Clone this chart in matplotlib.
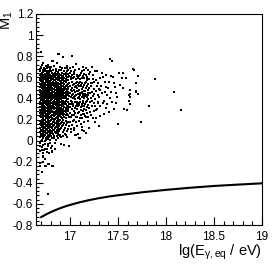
import numpy as np
import matplotlib
matplotlib.use('Agg')
import matplotlib.pyplot as plt
from matplotlib.ticker import MultipleLocator, FormatStrFormatter

plt.rcParams['font.family'] = ['Liberation Sans', 'DejaVu Sans']
plt.rcParams['mathtext.default'] = 'regular'

# dense core: one x per column, y values of that column
col_x = [16.685, 16.705, 16.722, 16.740, 16.758, 16.776, 16.795,
         16.813, 16.832, 16.850, 16.870, 16.890, 16.910, 16.930]
col_y = [
    [-0.21, -0.10, -0.02, 0.03, 0.08, 0.12, 0.16, 0.19, 0.23, 0.26, 0.29, 0.32, 0.35, 0.37, 0.40, 0.43, 0.46, 0.48, 0.51, 0.54, 0.57, 0.59, 0.62, 0.66],
    [-0.30, -0.06, 0.01, 0.05, 0.09, 0.13, 0.17, 0.20, 0.24, 0.27, 0.30, 0.33, 0.36, 0.39, 0.42, 0.44, 0.47, 0.50, 0.53, 0.55, 0.58, 0.61, 0.64, 0.72],
    [-0.15, -0.04, 0.02, 0.06, 0.10, 0.14, 0.18, 0.21, 0.25, 0.28, 0.31, 0.34, 0.37, 0.40, 0.43, 0.45, 0.48, 0.51, 0.54, 0.56, 0.59, 0.62, 0.65],
    [-0.24, -0.08, 0.00, 0.05, 0.09, 0.12, 0.16, 0.20, 0.23, 0.26, 0.29, 0.32, 0.36, 0.38, 0.41, 0.44, 0.47, 0.49, 0.52, 0.55, 0.58, 0.60, 0.63, 0.68],
    [-0.11, 0.03, 0.07, 0.11, 0.15, 0.18, 0.22, 0.25, 0.28, 0.31, 0.34, 0.37, 0.39, 0.42, 0.45, 0.48, 0.50, 0.53, 0.56, 0.58, 0.61, 0.64],
    [-0.22, -0.03, 0.04, 0.08, 0.13, 0.17, 0.20, 0.24, 0.27, 0.30, 0.33, 0.35, 0.38, 0.41, 0.44, 0.46, 0.49, 0.52, 0.55, 0.57, 0.60, 0.63, 0.70],
    [0.01, 0.06, 0.10, 0.14, 0.19, 0.22, 0.26, 0.29, 0.32, 0.34, 0.37, 0.40, 0.43, 0.45, 0.48, 0.51, 0.54, 0.56, 0.59, 0.62, 0.66],
    [-0.24, -0.10, 0.02, 0.08, 0.12, 0.16, 0.21, 0.24, 0.28, 0.31, 0.33, 0.36, 0.39, 0.42, 0.44, 0.47, 0.50, 0.53, 0.55, 0.58, 0.61, 0.64, 0.75],
    [0.04, 0.10, 0.15, 0.19, 0.23, 0.26, 0.30, 0.32, 0.35, 0.38, 0.41, 0.43, 0.46, 0.49, 0.52, 0.54, 0.57, 0.60, 0.63],
    [0.01, 0.07, 0.13, 0.17, 0.21, 0.25, 0.28, 0.31, 0.34, 0.37, 0.40, 0.42, 0.45, 0.48, 0.51, 0.53, 0.56, 0.59, 0.62, 0.66],
    [0.05, 0.11, 0.16, 0.20, 0.24, 0.27, 0.30, 0.33, 0.36, 0.39, 0.41, 0.44, 0.47, 0.50, 0.52, 0.55, 0.58, 0.61, 0.64],
    [0.09, 0.14, 0.19, 0.23, 0.26, 0.29, 0.32, 0.35, 0.38, 0.40, 0.43, 0.46, 0.49, 0.51, 0.54, 0.57, 0.60, 0.63, 0.82],
    [0.03, 0.12, 0.17, 0.22, 0.25, 0.28, 0.31, 0.34, 0.37, 0.39, 0.42, 0.45, 0.48, 0.50, 0.53, 0.56, 0.59, 0.62, 0.67],
    [0.08, 0.15, 0.20, 0.24, 0.27, 0.30, 0.33, 0.36, 0.38, 0.41, 0.44, 0.47, 0.49, 0.52, 0.55, 0.58, 0.61, 0.79],
]

# second core layer, columns between the first ones
col2_x = [16.695, 16.714, 16.731, 16.749, 16.767, 16.786, 16.804, 16.822,
          16.841, 16.860, 16.880, 16.900, 16.920, 16.940, 16.960, 16.980]
col2_y = [
    [0.00, 0.04, 0.10, 0.15, 0.175, 0.22, 0.255, 0.28, 0.315, 0.345, 0.385, 0.415, 0.45, 0.47, 0.505, 0.525, 0.565, 0.60, 0.635, 0.69],
    [-0.20, 0.03, 0.075, 0.115, 0.155, 0.19, 0.225, 0.265, 0.29, 0.325, 0.355, 0.38, 0.415, 0.455, 0.485, 0.52, 0.545, 0.575, 0.615, 0.65],
    [-0.09, 0.045, 0.085, 0.13, 0.165, 0.195, 0.235, 0.27, 0.30, 0.33, 0.36, 0.395, 0.42, 0.46, 0.495, 0.525, 0.55, 0.585, 0.625, 0.66],
    [0.02, 0.07, 0.105, 0.14, 0.18, 0.21, 0.245, 0.28, 0.305, 0.345, 0.375, 0.40, 0.435, 0.465, 0.50, 0.53, 0.565, 0.595, 0.62, 0.71],
    [-0.05, 0.015, 0.055, 0.095, 0.135, 0.165, 0.205, 0.235, 0.265, 0.29, 0.325, 0.36, 0.395, 0.425, 0.455, 0.475, 0.515, 0.545, 0.59, 0.62, 0.655],
    [0.03, 0.085, 0.12, 0.155, 0.18, 0.215, 0.25, 0.285, 0.31, 0.345, 0.375, 0.41, 0.43, 0.465, 0.50, 0.525, 0.565, 0.60, 0.645],
    [-0.07, 0.04, 0.075, 0.125, 0.16, 0.20, 0.23, 0.27, 0.30, 0.325, 0.355, 0.385, 0.415, 0.455, 0.49, 0.515, 0.545, 0.575, 0.605, 0.655],
    [0.065, 0.105, 0.135, 0.175, 0.205, 0.24, 0.275, 0.31, 0.335, 0.37, 0.40, 0.43, 0.465, 0.49, 0.525, 0.56, 0.595, 0.625],
    [-0.02, 0.085, 0.12, 0.165, 0.205, 0.24, 0.27, 0.31, 0.345, 0.365, 0.395, 0.42, 0.445, 0.48, 0.51, 0.545, 0.575, 0.615, 0.645],
    [0.045, 0.10, 0.145, 0.185, 0.225, 0.26, 0.29, 0.325, 0.355, 0.385, 0.415, 0.435, 0.465, 0.495, 0.525, 0.55, 0.585, 0.635],
    [0.075, 0.125, 0.175, 0.215, 0.245, 0.275, 0.31, 0.345, 0.37, 0.395, 0.425, 0.455, 0.485, 0.52, 0.55, 0.575, 0.605, 0.65],
    [0.04, 0.11, 0.155, 0.195, 0.24, 0.27, 0.30, 0.335, 0.365, 0.395, 0.415, 0.44, 0.47, 0.505, 0.535, 0.565, 0.59, 0.625],
    [0.135, 0.175, 0.21, 0.26, 0.29, 0.325, 0.35, 0.38, 0.405, 0.435, 0.46, 0.49, 0.52, 0.545, 0.575, 0.605, 0.64],
    [0.10, 0.165, 0.225, 0.255, 0.285, 0.32, 0.345, 0.37, 0.40, 0.425, 0.455, 0.48, 0.51, 0.535, 0.565, 0.595, 0.63],
    [0.145, 0.19, 0.245, 0.27, 0.31, 0.345, 0.38, 0.41, 0.43, 0.465, 0.49, 0.52, 0.555, 0.585, 0.615, 0.645],
    [0.18, 0.24, 0.30, 0.325, 0.365, 0.395, 0.435, 0.465, 0.51, 0.535, 0.57, 0.60, 0.63],
]

# medium density band 16.95 - 17.2
mid_x = [16.952, 16.955, 16.958, 16.951, 16.956, 16.953, 16.957, 16.954, 16.959, 16.950,
         16.968, 16.972, 16.966, 16.970, 16.974, 16.969, 16.973, 16.967, 16.971, 16.975,
         16.985, 16.988, 16.983, 16.990, 16.986, 16.984, 16.989, 16.987, 16.991, 16.982,
         17.002, 17.005, 17.000, 17.007, 17.003, 17.001, 17.006, 17.004, 17.008, 17.009,
         17.020, 17.022, 17.018, 17.025, 17.021, 17.019, 17.024, 17.023, 17.026, 17.017,
         17.038, 17.041, 17.036, 17.043, 17.039, 17.037, 17.042, 17.040, 17.044, 17.035,
         17.056, 17.059, 17.054, 17.061, 17.057, 17.055, 17.060, 17.058, 17.062, 17.053,
         17.074, 17.077, 17.072, 17.079, 17.075, 17.073, 17.078, 17.076, 17.080, 17.071,
         17.092, 17.095, 17.090, 17.097, 17.093, 17.091, 17.096, 17.094, 17.098, 17.089,
         17.110, 17.113, 17.108, 17.115, 17.111, 17.109, 17.114, 17.112, 17.116, 17.107,
         17.128, 17.131, 17.126, 17.133, 17.129, 17.127, 17.132, 17.130, 17.134, 17.125,
         17.146, 17.149, 17.144, 17.151, 17.147, 17.145, 17.150, 17.148, 17.152, 17.143,
         17.164, 17.167, 17.162, 17.169, 17.165, 17.163, 17.168, 17.166, 17.170, 17.161,
         17.182, 17.185, 17.180, 17.187, 17.183, 17.181, 17.186, 17.184, 17.188, 17.179]
mid_y = [0.12, 0.21, 0.29, 0.36, 0.44, 0.50, 0.57, 0.62, 0.05, 0.40,
         0.17, 0.25, 0.33, 0.39, 0.47, 0.53, 0.60, 0.66, 0.09, 0.31,
         0.14, 0.22, 0.28, 0.35, 0.42, 0.49, 0.55, 0.61, -0.05, 0.45,
         0.18, 0.26, 0.32, 0.38, 0.45, 0.52, 0.58, 0.64, 0.11, 0.41,
         0.15, 0.24, 0.30, 0.37, 0.43, 0.50, 0.56, 0.62, 0.80, 0.47,
         0.20, 0.28, 0.35, 0.41, 0.48, 0.54, 0.60, 0.12, 0.65, 0.44,
         0.05, 0.18, 0.26, 0.33, 0.39, 0.46, 0.52, 0.58, 0.73, 0.42,
         0.22, 0.30, 0.37, 0.44, 0.50, 0.56, 0.62, 0.14, 0.40, 0.47,
         0.02, 0.19, 0.27, 0.34, 0.41, 0.48, 0.55, 0.61, 0.36, 0.52,
         0.24, 0.32, 0.39, 0.45, 0.52, 0.58, 0.16, 0.64, 0.29, 0.43,
         0.10, 0.28, 0.35, 0.42, 0.49, 0.55, 0.61, 0.21, 0.38, 0.46,
         0.25, 0.33, 0.40, 0.47, 0.53, 0.59, 0.18, 0.67, 0.44, 0.30,
         0.07, 0.29, 0.37, 0.43, 0.50, 0.56, 0.62, 0.22, 0.69, 0.47,
         0.26, 0.34, 0.41, 0.48, 0.54, 0.60, 0.19, 0.39, 0.45, 0.57]

# extra fill 17.0 - 17.3
mid2_x = [17.011, 17.014, 17.012, 17.013, 17.029, 17.031, 17.030, 17.032, 17.028, 17.047,
          17.049, 17.048, 17.050, 17.046, 17.066, 17.068, 17.065, 17.067, 17.069, 17.084,
          17.086, 17.083, 17.085, 17.087, 17.102, 17.104, 17.101, 17.103, 17.105, 17.120,
          17.122, 17.119, 17.121, 17.138, 17.140, 17.137, 17.139, 17.141, 17.156, 17.158,
          17.155, 17.157, 17.174, 17.176, 17.173, 17.175, 17.192, 17.194, 17.191, 17.193,
          17.195, 17.205, 17.212, 17.215, 17.218, 17.228, 17.232, 17.236, 17.240, 17.245,
          17.252, 17.255, 17.262, 17.268, 17.275, 17.282, 17.288, 17.295, 17.302, 17.315]
mid2_y = [0.22, 0.35, 0.48, 0.60, 0.19, 0.33, 0.40, 0.53, 0.59, 0.24,
          0.31, 0.37, 0.51, 0.63, 0.22, 0.35, 0.43, 0.55, 0.61, 0.26,
          0.33, 0.47, 0.53, 0.59, 0.21, 0.37, 0.45, 0.56, 0.62, 0.33,
          0.41, 0.53, 0.59, 0.25, 0.36, 0.44, 0.51, 0.63, 0.23, 0.35,
          0.42, 0.55, 0.32, 0.38, 0.52, 0.59, 0.22, 0.31, 0.43, 0.50,
          0.63, 0.37, 0.27, 0.40, 0.55, 0.46, 0.33, 0.58, 0.21, 0.36,
          0.44, 0.56, 0.39, 0.47, 0.29, 0.52, 0.43, 0.37, 0.49, 0.33]

# ragged upper and lower edges of the cloud
edge_x = [16.690, 16.700, 16.715, 16.730, 16.745, 16.760, 16.770, 16.790, 16.805, 16.820,
          16.835, 16.855, 16.865, 16.885, 16.900, 16.915, 16.935, 16.950, 16.965, 16.980,
          17.000, 17.015, 17.035, 17.050, 17.090, 17.120, 17.140, 17.190, 17.230, 17.260,
          16.690, 16.700, 16.715, 16.725, 16.735, 16.750, 16.765, 16.780, 16.790, 16.800,
          16.815, 16.830, 16.845, 16.860, 16.875, 16.895, 16.905, 16.925, 16.945, 16.965,
          16.975, 17.015, 17.045, 17.080, 17.120, 17.150, 17.200, 17.270]
edge_y = [0.68, 0.70, 0.67, 0.69, 0.66, 0.69, 0.72, 0.68, 0.70, 0.67,
          0.71, 0.68, 0.74, 0.67, 0.70, 0.685, 0.66, 0.69, 0.71, 0.67,
          0.69, 0.66, 0.70, 0.67, 0.68, 0.66, 0.70, 0.67, 0.70, 0.66,
          -0.05, 0.06, -0.12, 0.04, -0.03, 0.01, -0.08, 0.05, -0.02, 0.09,
          -0.05, 0.02, -0.08, 0.08, 0.02, 0.05, -0.03, 0.04, 0.06, 0.03,
          0.11, 0.08, 0.10, 0.06, 0.13, 0.09, 0.12, 0.21]

# sparse tail and outliers
tail_x = [17.20, 17.21, 17.22, 17.20, 17.23, 17.24, 17.22, 17.25, 17.26, 17.24,
          17.27, 17.26, 17.21, 17.23, 17.25, 17.30, 17.32, 17.31, 17.33, 17.35,
          17.36, 17.37, 17.40, 17.42, 17.45, 17.47, 17.49, 17.37, 17.41, 17.46,
          17.28, 17.33, 17.34, 17.43, 17.41, 17.46, 17.38, 17.52, 17.55, 17.62,
          17.69, 17.71, 17.29, 17.31, 17.36, 17.43, 17.48, 17.39, 17.61, 17.63,
          17.29, 17.34, 17.39, 17.44, 17.48, 17.61, 17.63, 17.82, 17.56, 17.59,
          17.28, 17.31, 17.35, 17.30, 17.50, 17.74, 17.42, 17.44, 17.66, 17.71,
          17.55, 17.51, 17.58, 17.54, 17.89, 17.69, 17.67, 17.69, 17.63, 18.08,
          18.16, 16.70, 16.88, 17.02, 16.93, 16.82, 16.72, 16.78, 17.06, 16.97,
          17.17, 16.94, 16.99, 17.06, 17.10, 17.17, 16.71, 16.78, 16.72, 16.74,
          16.81, 16.69, 16.75, 16.78, 16.82, 16.71, 16.77]
tail_y = [0.31, 0.45, 0.52, 0.58, 0.38, 0.62, 0.24, 0.49, 0.33, 0.42,
          0.57, 0.18, 0.65, 0.55, 0.28, 0.41, 0.52, 0.59, 0.45, 0.38,
          0.56, 0.31, 0.50, 0.40, 0.60, 0.51, 0.41, 0.62, 0.27, 0.30,
          0.663, 0.644, 0.606, 0.612, 0.558, 0.543, 0.511, 0.527, 0.496, 0.48,
          0.464, 0.439, 0.543, 0.48, 0.464, 0.464, 0.448, 0.432, 0.432, 0.41,
          0.354, 0.354, 0.347, 0.369, 0.354, 0.378, 0.347, 0.328, 0.297, 0.29,
          0.297, 0.233, 0.249, 0.136, 0.16, 0.176, 0.773, 0.754, 0.676, 0.612,
          0.644, 0.644, 0.596, 0.596, 0.584, 0.549, 0.672, 0.473, 0.439, 0.464,
          0.287, 0.837, 0.82, 0.80, 0.79, 0.75, 0.74, 0.70, 0.73, 0.685,
          0.69, -0.04, -0.05, 0.053, 0.022, 0.069, -0.089, -0.12, -0.158, -0.177,
          -0.105, -0.238, -0.238, -0.222, -0.238, -0.298, -0.509]

# lower bound curve
curve_x = [16.70, 16.75, 16.80, 16.85, 16.90, 16.95, 17.00, 17.10, 17.20, 17.30,
           17.40, 17.50, 17.75, 18.00, 18.25, 18.50, 18.75, 19.00]
curve_y = [-0.725, -0.70, -0.678, -0.658, -0.640, -0.624, -0.610, -0.585, -0.564, -0.546,
           -0.531, -0.518, -0.490, -0.467, -0.447, -0.430, -0.417, -0.405]

core_x = [cx for cx, ys in zip(col_x + col2_x, col_y + col2_y) for _ in ys]
core_y = [y for ys in col_y + col2_y for y in ys]

fig = plt.figure(figsize=(2.74, 2.69), dpi=100)
ax = fig.add_axes([36 / 274, 1 - 225 / 269, 226 / 274, 211 / 269])

all_x = core_x + mid_x + mid2_x + edge_x + tail_x
all_y = core_y + mid_y + mid2_y + edge_y + tail_y
ax.scatter(all_x, all_y, s=3.0, marker='s', color='black', linewidths=0)
ax.plot(curve_x, curve_y, color='black', lw=1.5)

ax.set_xlim(16.646, 19.0)
ax.set_ylim(-0.8, 1.2)

ax.xaxis.set_major_locator(MultipleLocator(0.5))
ax.xaxis.set_minor_locator(MultipleLocator(0.1))
ax.yaxis.set_major_locator(MultipleLocator(0.2))
ax.yaxis.set_minor_locator(MultipleLocator(0.04))
ax.xaxis.set_major_formatter(FormatStrFormatter('%g'))
ax.yaxis.set_major_formatter(FormatStrFormatter('%g'))

ax.tick_params(axis='x', which='major', direction='in', length=6, width=0.8, pad=4, labelsize=8.5)
ax.tick_params(axis='x', which='minor', direction='in', length=3, width=0.8)
ax.tick_params(axis='y', which='major', direction='in', length=5, width=0.8, pad=2, labelsize=8.5)
ax.tick_params(axis='y', which='minor', direction='in', length=2.5, width=0.8)
for sp in ax.spines.values():
    sp.set_linewidth(0.8)

fig.text(262 / 274, 1 - 252 / 269, 'lg(E$_{γ,eq}$ / eV)', ha='right', va='center', fontsize=10.5)
fig.text(7 / 274, 1 - 11 / 269, 'M$_{1}$', ha='center', va='top', rotation=90, fontsize=10.5)

fig.savefig('out.png', dpi=100)
